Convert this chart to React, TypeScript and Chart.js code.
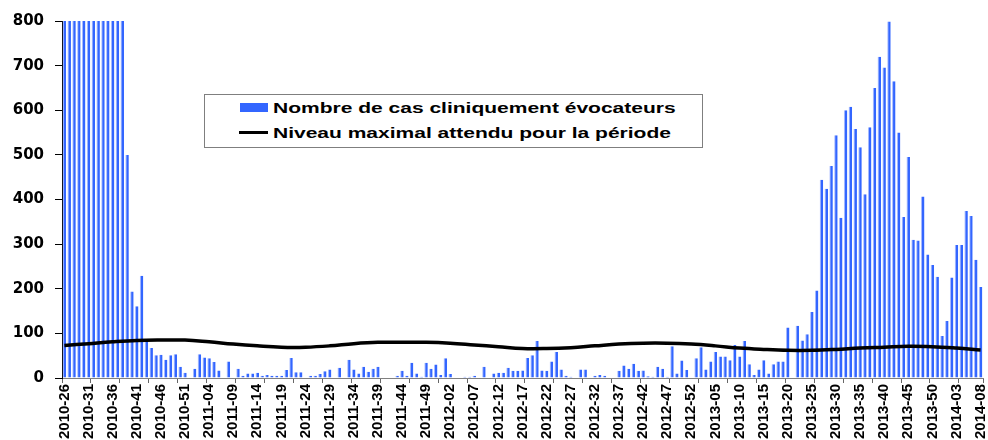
import React, { useEffect, useRef } from 'react';
import { Chart, registerables } from 'chart.js';

Chart.register(...registerables);

// Weekly categories: 2010-26 .. 2014-08 (every year here has 52 ISO weeks)
const firstWeek = { year: 2010, week: 26 };
const lastWeek = { year: 2014, week: 8 };
function buildCategories(): string[] {
  const out: string[] = [];
  let y = firstWeek.year;
  let w = firstWeek.week;
  while (y < lastWeek.year || (y === lastWeek.year && w <= lastWeek.week)) {
    out.push(`${y}-${String(w).padStart(2, '0')}`);
    w += 1;
    if (w > 52) { w = 1; y += 1; }
  }
  return out;
}
const categories = buildCategories();

// Tick labels shown on the x axis
const tickLabels = [
  '2010-26', '2010-31', '2010-36', '2010-41', '2010-46', '2010-51',
  '2011-04', '2011-09', '2011-14', '2011-19', '2011-24', '2011-29', '2011-34', '2011-39', '2011-44', '2011-49',
  '2012-02', '2012-07', '2012-12', '2012-17', '2012-22', '2012-27', '2012-32', '2012-37', '2012-42', '2012-47', '2012-52',
  '2013-05', '2013-10', '2013-15', '2013-20', '2013-25', '2013-30', '2013-35', '2013-40', '2013-45', '2013-50',
  '2014-03', '2014-08',
];

// Nombre de cas cliniquement évocateurs (weekly)
const cases2010 = [
  800, 800, 800, 800, 800, 800, 800, 800, 800, 800, 800, 800, 800,
  500, 194, 161, 229, 83, 67, 51, 52, 41, 51, 53, 25, 12, 0,
];
const cases2011 = [
  21, 53, 46, 44, 36, 17, 0, 37, 0, 21,
  5, 10, 10, 12, 5, 7, 5, 5, 5, 18,
  45, 13, 13, 0, 5, 5, 9, 15, 19, 0,
  23, 0, 41, 19, 10, 25, 14, 21, 25, 0,
  0, 0, 5, 16, 5, 34, 10, 3, 34, 21,
  30, 7,
];
const cases2012 = [
  44, 9, 0, 0, 3, 3, 5, 0, 25, 0,
  10, 12, 12, 23, 16, 16, 17, 45, 51, 83,
  17, 16, 37, 58, 19, 5, 3, 0, 19, 19,
  0, 5, 7, 5, 0, 0, 16, 28, 21, 32,
  16, 17, 4, 3, 25, 21, 3, 71, 10, 39,
  18, 0,
];
const cases2013 = [
  44, 69, 19, 37, 58, 48, 48, 40, 74, 48,
  83, 31, 7, 19, 40, 10, 31, 37, 37, 113,
  0, 117, 84, 98, 148, 196, 444, 424, 475, 544,
  359, 600, 608, 558, 517, 412, 562, 650, 720, 696,
  799, 665, 550, 361, 495, 310, 308, 407, 277, 253,
  227, 94,
];
const cases2014 = [128, 225, 298, 298, 374, 363, 265, 204];
const cases = [...cases2010, ...cases2011, ...cases2012, ...cases2013, ...cases2014];

// Niveau maximal attendu pour la période, read at each labelled week
const thresholdValues = [
  73, 77, 81, 84, 85, 85,
  81, 76, 72, 69, 69, 72, 77, 80, 80, 80,
  78, 74, 70, 66, 66, 68, 72, 76, 78, 78, 76,
  72, 67, 64, 62, 62, 64, 67, 69, 71, 70,
  67, 63,
];

const seriesBarLabel = 'Nombre de cas cliniquement évocateurs';
const seriesLineLabel = 'Niveau maximal attendu pour la période';

export default function App() {
  const ref = useRef<HTMLCanvasElement>(null);

  useEffect(() => {
    document.body.style.margin = '0';
    const canvas = ref.current;
    if (!canvas) return;
    const chart = new Chart(canvas, {
      type: 'bar',
      data: {
        labels: categories,
        datasets: [
          {
            type: 'line',
            label: seriesLineLabel,
            data: tickLabels.map((w, i) => ({ x: w, y: thresholdValues[i] })) as any,
            borderColor: '#000000',
            borderWidth: 3.5,
            pointRadius: 0,
            tension: 0.4,
            fill: false,
            order: 0,
          } as any,
          {
            type: 'bar',
            label: seriesBarLabel,
            data: cases,
            backgroundColor: '#3366ff',
            borderColor: '#a8bbff',
            borderWidth: { left: 1, right: 0, top: 0, bottom: 0 },
            barPercentage: 0.72,
            categoryPercentage: 1,
            order: 1,
          } as any,
        ],
      },
      options: {
        animation: false,
        responsive: true,
        maintainAspectRatio: false,
        layout: { padding: { top: 21, right: 5, left: 0, bottom: 0 } },
        plugins: {
          legend: { display: false },
          tooltip: { enabled: false },
        },
        scales: {
          x: {
            type: 'category',
            offset: true,
            afterFit: (scale: any) => {
              scale.height = 62;
              scale.paddingLeft = 0;
              scale.paddingRight = 0;
            },
            border: { display: true, color: '#808080', width: 1 },
            grid: {
              display: true,
              drawOnChartArea: false,
              drawTicks: true,
              tickLength: 5,
              offset: true,
              tickColor: (ctx: any) =>
                ctx.index === undefined || ctx.index % 6 === 0 ? '#666666' : 'rgba(0,0,0,0)',
            },
            ticks: {
              autoSkip: false,
              minRotation: 90,
              maxRotation: 90,
              padding: 1,
              color: '#000000',
              font: { family: '"Liberation Sans", Arial, sans-serif', weight: 'bold', size: 15 },
              callback: (_v: any, idx: number) =>
                tickLabels.includes(categories[idx]) ? categories[idx] : '',
            },
          },
          y: {
            min: 0,
            max: 800,
            afterFit: (scale: any) => {
              scale.width = 62;
              scale.paddingTop = 0;
              scale.paddingBottom = 0;
            },
            border: { display: true, color: '#000000', width: 1 },
            grid: {
              display: true,
              drawOnChartArea: false,
              drawTicks: true,
              tickLength: 7,
              tickColor: '#000000',
            },
            ticks: {
              stepSize: 100,
              padding: 11,
              color: '#000000',
              font: { family: '"DejaVu Sans", sans-serif', weight: 'bold', size: 15 },
            },
          },
        },
      },
    });
    return () => chart.destroy();
  }, []);

  const textStyle: React.CSSProperties = {
    position: 'absolute',
    left: 67.7,
    fontFamily: '"Liberation Sans", Arial, sans-serif',
    fontWeight: 'bold',
    fontSize: 15,
    lineHeight: '15px',
    whiteSpace: 'nowrap',
    color: '#000',
    transform: 'scaleX(1.4)',
    transformOrigin: 'left center',
  };

  return (
    <div style={{ position: 'fixed', left: 0, top: 0, width: 988, height: 440, background: '#fff' }}>
      <canvas ref={ref} />
      <div
        style={{
          position: 'absolute',
          left: 204,
          top: 94,
          width: 499,
          height: 54,
          border: '1.5px solid #7f7f7f',
          boxSizing: 'border-box',
          background: '#fff',
        }}
      >
        <div style={{ position: 'absolute', left: 35.2, top: 7.8, width: 27.6, height: 9, background: '#3366ff' }} />
        <div style={{ ...textStyle, top: 5.2 }}>{seriesBarLabel}</div>
        <div style={{ position: 'absolute', left: 33.5, top: 36, width: 29, height: 3, background: '#000' }} />
        <div style={{ ...textStyle, top: 30.2 }}>{seriesLineLabel}</div>
      </div>
    </div>
  );
}
